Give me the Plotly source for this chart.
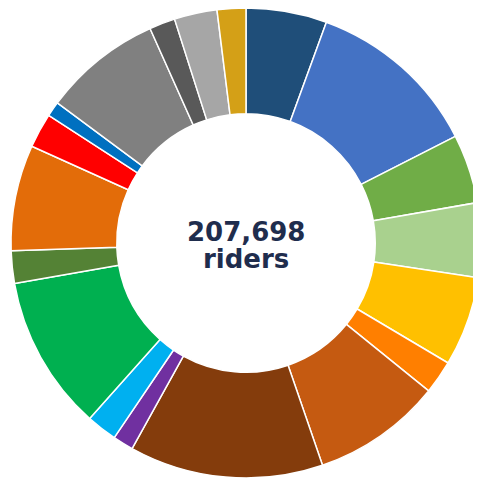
import plotly.graph_objects as go

routes = ["Route 1", "Route 2", "Route 3", "Route 4", "Route 5", "Route 6",
          "Route 7", "Route 8", "Route 9", "Route 10", "Route 11", "Route 12",
          "Route 13", "Route 14", "Route 15", "Route 16", "Route 17", "Route 18",
          "Route 19"]
riders = [11539, 24808, 9866, 10616, 12808, 4789, 18462, 27693, 2942, 4385,
          22155, 4616, 15116, 4962, 2135, 16904, 3692, 6116, 4094]
colors = ["#1F4E79", "#4472C4", "#70AD47", "#A9D18E", "#FFC000", "#FF7F00",
          "#C55A11", "#843C0C", "#7030A0", "#00B0F0", "#00B050", "#548235",
          "#E36C09", "#FF0000", "#0070C0", "#808080", "#595959", "#A6A6A6",
          "#D4A017"]
total = sum(riders)

fig = go.Figure(go.Pie(
    labels=routes,
    values=riders,
    hole=0.55,
    sort=False,
    direction="clockwise",
    rotation=0,
    marker=dict(colors=colors, line=dict(color="white", width=1.5)),
    textinfo="none",
    hoverinfo="label+value+percent",
))

fig.add_annotation(x=0.5, y=0.5, xref="paper", yref="paper",
                   text=f"<b>{total:,}</b>", showarrow=False, yshift=11,
                   font=dict(family="DejaVu Sans", size=26, color="#1f2d4d"))
fig.add_annotation(x=0.5, y=0.5, xref="paper", yref="paper",
                   text="<b>riders</b>", showarrow=False, yshift=-16,
                   font=dict(family="DejaVu Sans", size=26, color="#1f2d4d"))

fig.update_layout(
    width=481, height=479,
    margin=dict(l=0, r=5, t=0, b=9),
    showlegend=False,
    paper_bgcolor="white",
    plot_bgcolor="white",
)

fig.write_html("out.html")
